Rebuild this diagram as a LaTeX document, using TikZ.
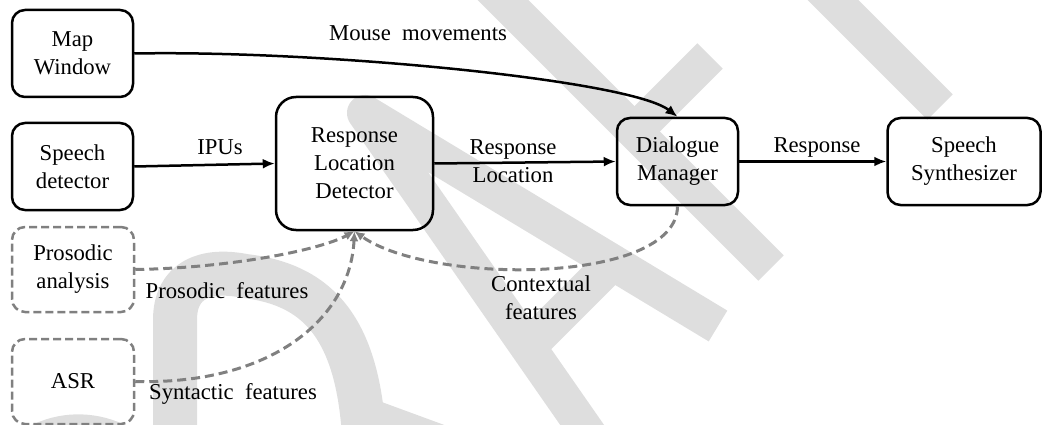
\documentclass[tikz,border=0pt]{standalone}
\usepackage{fontspec}
\setmainfont{Liberation Serif}
\usetikzlibrary{arrows.meta}
\definecolor{wmgray}{RGB}{222,222,222}
\definecolor{dgray}{RGB}{128,128,128}
\begin{document}
\begin{tikzpicture}[x=1pt,y=-1pt,
  font=\fontsize{22.7pt}{28pt}\selectfont,
  wm/.style={draw=wmgray, line width=36pt, line cap=butt, line join=round},
  box/.style={draw, line width=2.5pt, rounded corners=13pt, align=center, inner sep=0pt, minimum width=121pt, minimum height=87pt},
  dbox/.style={box, draw=dgray, dash pattern=on 8pt off 4pt, minimum width=122pt, minimum height=85pt},
  lbl/.style={align=center, inner sep=0pt},
  arr/.style={line width=2.5pt, -{Latex[length=12pt,width=10pt]}},
  darr/.style={line width=3pt, draw=dgray, dash pattern=on 9pt off 5pt, -{Latex[length=10pt,width=9pt]}}
]
\useasboundingbox (0,0) rectangle (1043,425);
% watermark
\begin{scope}
\clip (0,0) rectangle (1043,425);
\draw[wm] (733,-100) -- (940,107);
\draw[wm] (440,-63) -- (771,268);
\draw[wm] (634.5,131.5) -- (710,56);
\draw[wm] (610,465) -- (365,113) -- (718,326);
\draw[wm] (530,345) -- (613,262);
\draw[wm, line width=44pt, line cap=round] (175,470) -- (175,320) .. controls (175,280) and (205,268) .. (245,276) .. controls (320,285) and (365,330) .. (365,470);
\draw[wm, line width=38pt] (362,415) -- (490,462);
\draw[wm, line width=40pt] (10,470) .. controls (40,425) and (110,420) .. (150,470);
\end{scope}
% nodes
\node[box] (map) at (72.5,53.5) {Map\\Window};
\node[box] (sd) at (72.5,166.5) {Speech\\detector};
\node[dbox] (pa) at (73,269.5) {Prosodic\\analysis};
\node[dbox] (asr) at (73,381.5) {ASR};
\node[box, rounded corners=20pt, minimum width=157pt, minimum height=133pt] (rld) at (354.5,163.5) {Response\\Location\\Detector};
\node[box] (dm) at (677.5,161.5) {Dialogue\\Manager};
\node[box, minimum width=153pt] (ss) at (964,161.5) {Speech\\Synthesizer};
% connectors
\draw[arr] (map.east) .. controls (320,50) and (630,80) .. (dm.north);
\draw[arr] (sd.east) -- (rld.west);
\draw[arr] (rld.east) -- (dm.west);
\draw[arr] (dm.east) -- (ss.west);
\draw[darr] (pa.east) .. controls (230,268) and (320,250) .. (rld.south);
\draw[darr] (asr.east) .. controls (270,385) and (350,320) .. (rld.south);
\draw[darr] (dm.south) .. controls (677,285) and (430,285) .. (rld.south);
% labels
\node[lbl] (lmouse) at (418,33) {Mouse\ \ movements};
\node[lbl] (lipu) at (220,147) {IPUs};
\node[lbl] (lrl) at (513,161) {Response\\Location};
\node[lbl] (lresp) at (817,147) {Response};
\node[lbl] (lpros) at (227,291) {Prosodic\ \ features};
\node[lbl] (lsyn) at (233,394) {Syntactic\ \ features};
\node[lbl] (lctx) at (541,298) {Contextual\\features};
\end{tikzpicture}
\end{document}
